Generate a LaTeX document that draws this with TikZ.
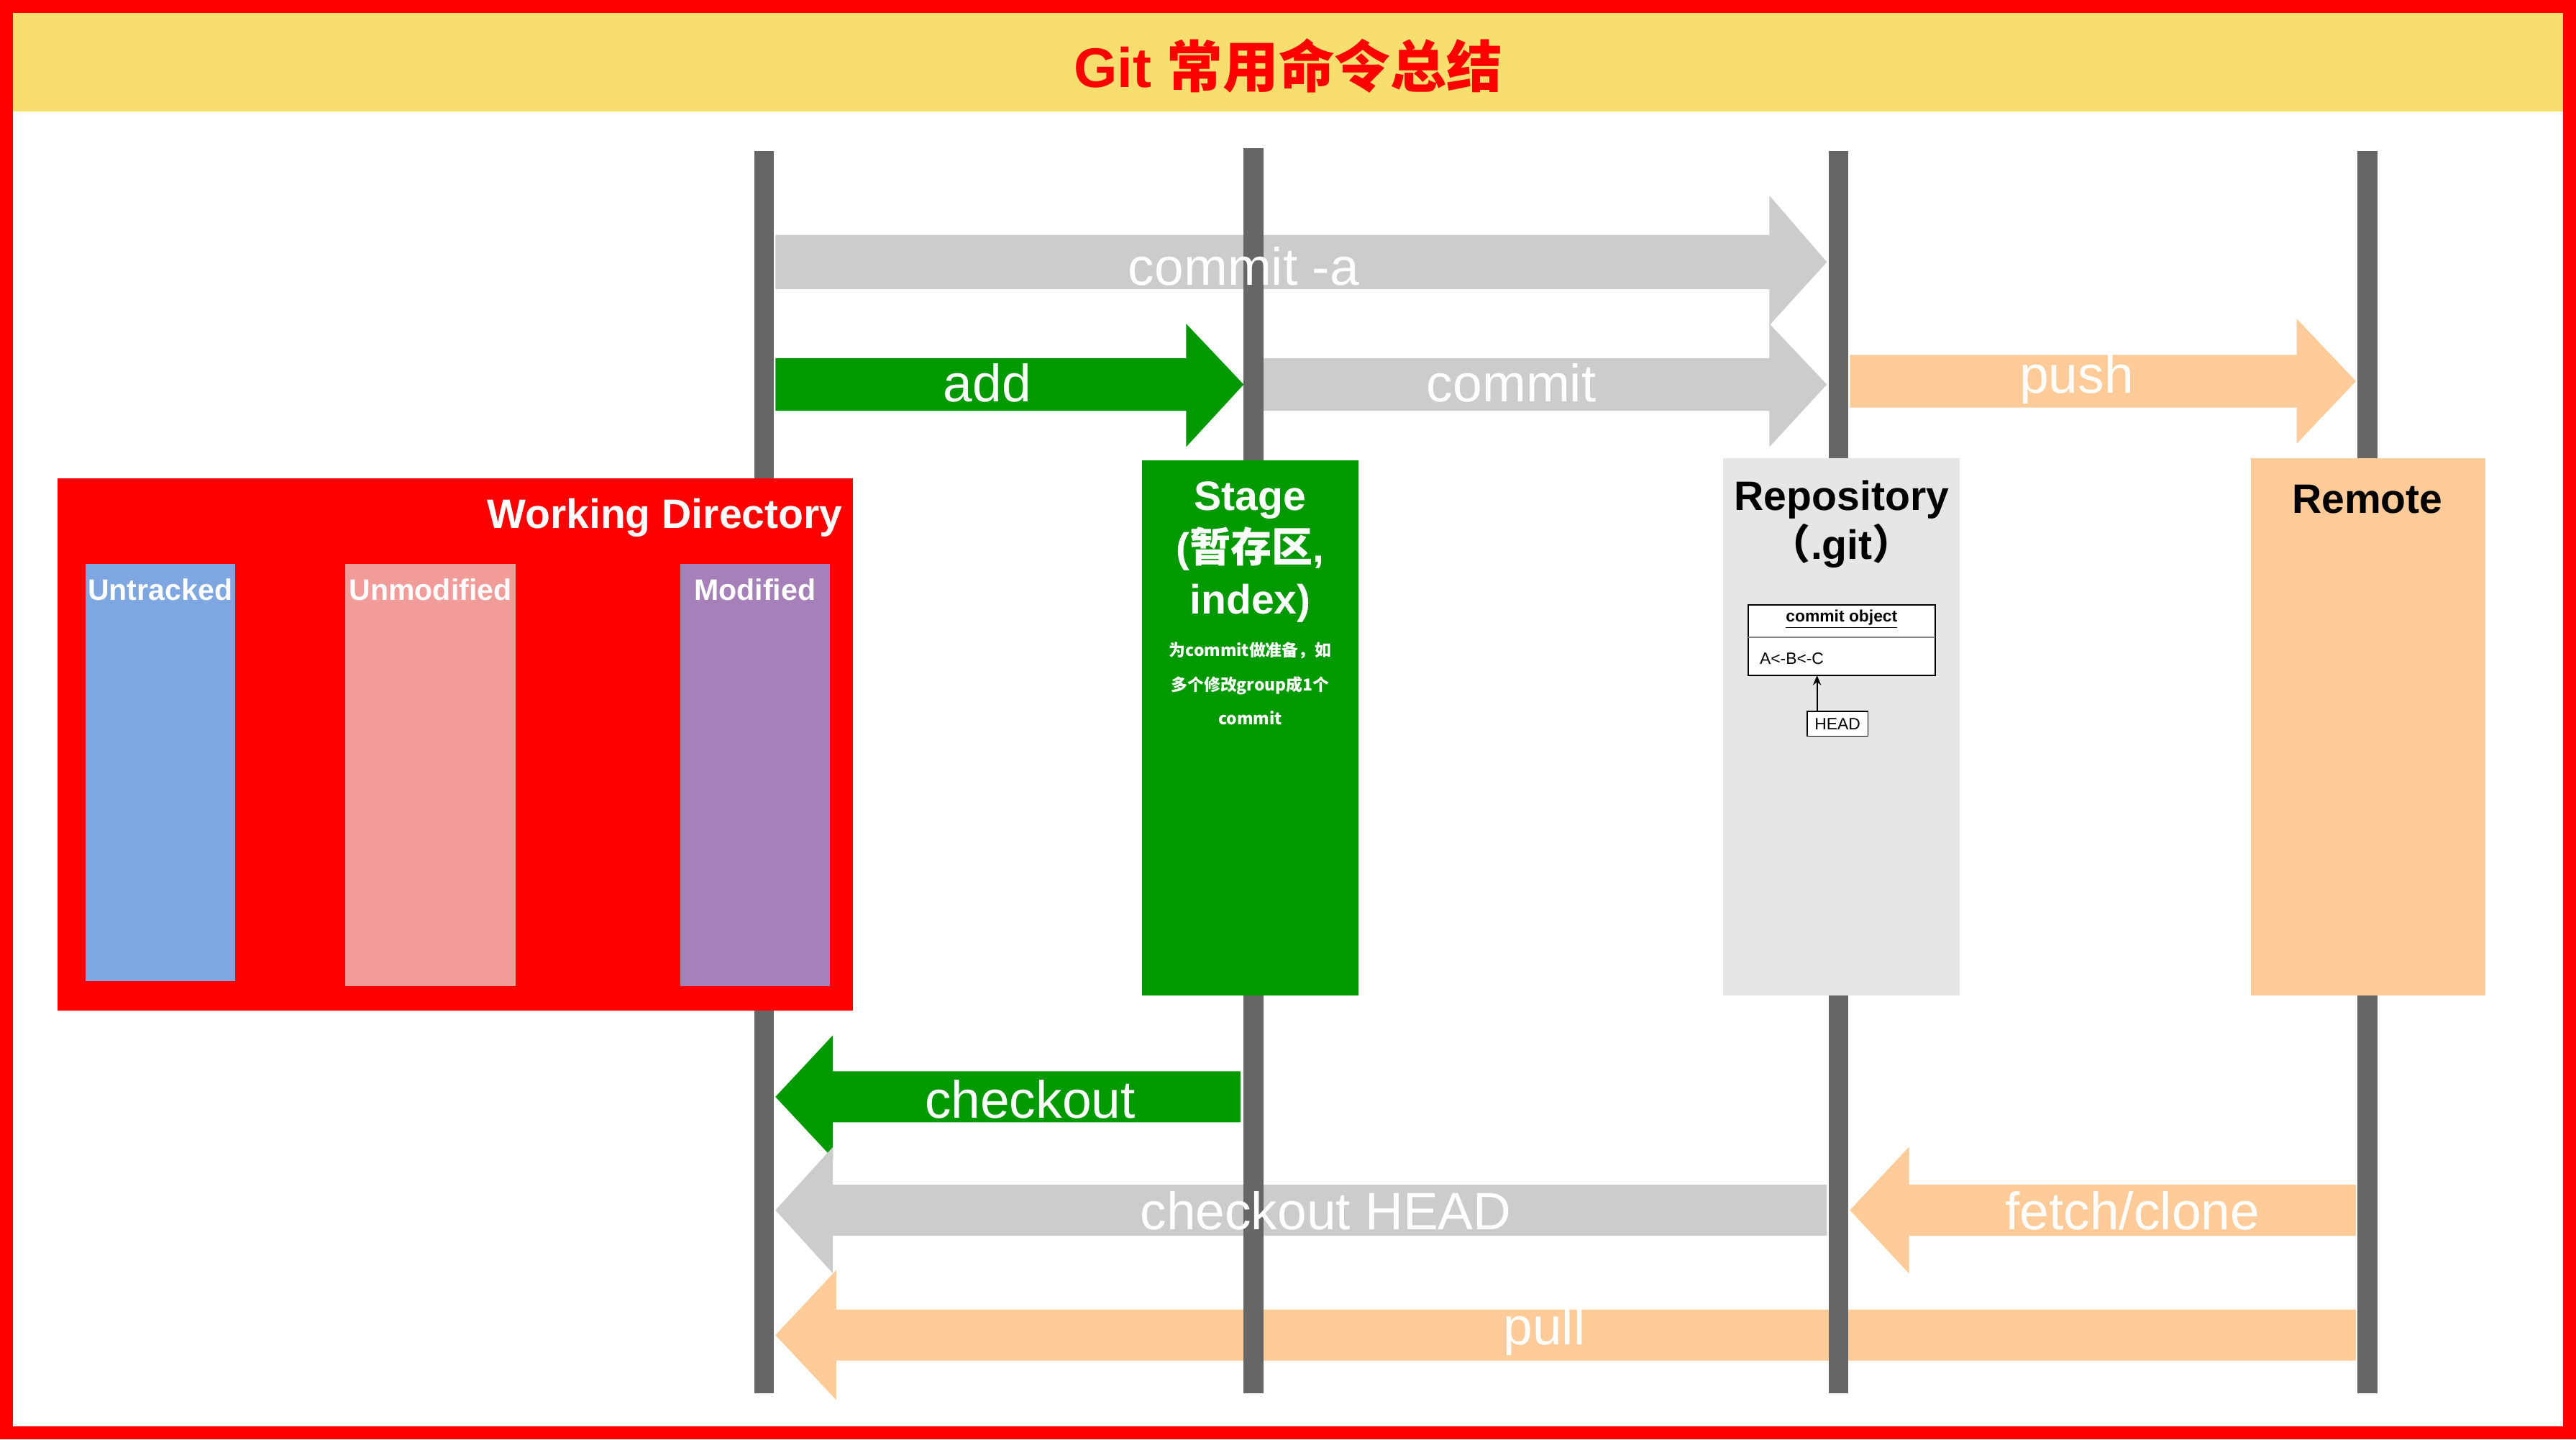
\documentclass[tikz,border=0pt]{standalone}
\usepackage{fontspec}
\setmainfont{Liberation Sans}
\newfontfamily\cjk{Noto Sans CJK SC}
\usetikzlibrary{arrows.meta}
\definecolor{gitgreen}{HTML}{009900}
\definecolor{gitgray}{HTML}{CCCCCC}
\definecolor{peach}{HTML}{FFCC99}
\definecolor{lifeline}{HTML}{666666}
\definecolor{titlebg}{HTML}{F8DE6F}
\definecolor{utblue}{HTML}{7EA6E0}
\definecolor{umpink}{HTML}{F19C99}
\definecolor{mdpurple}{HTML}{A680B8}
\definecolor{repogray}{HTML}{E6E6E6}
% right arrow: x1,x2,headx,bodytop,bodybot,headtop,headbot,color
\newcommand\blockR[8]{\fill[#8] (#1,#4) -- (#3,#4) -- (#3,#6) -- (#2,{(#4+#5)/2}) -- (#3,#7) -- (#3,#5) -- (#1,#5) -- cycle;}
\begin{document}
\begin{tikzpicture}[x=1pt,y=-1pt,
  lbl/.style={text=white,font=\fontsize{32}{34}\selectfont,inner sep=0pt},
  life/.style={lifeline,line width=12pt},
  boxtitle/.style={font=\bfseries\fontsize{25}{30}\selectfont,inner sep=0pt,align=center},
  sub/.style={text=white,font=\bfseries\fontsize{18}{20}\selectfont,anchor=north,inner sep=0pt},
  small/.style={font=\fontsize{10}{12}\selectfont,inner sep=0pt}]
\useasboundingbox (0,0) rectangle (1568,876);
\fill[white] (0,0) rectangle (1568,876);
\fill[titlebg] (8,8) rectangle (1560,68);
\node[text=red,font=\bfseries\fontsize{34}{36}\selectfont] (title) at (784,40) {Git {\cjk 常用命令总结}};
% arrows
\blockR{472}{1112}{1077}{143}{176}{119}{198}{gitgray}
\blockR{472}{757}{722}{218}{250}{197}{272}{gitgreen}
\blockR{769}{1112}{1077}{218}{250}{197}{272}{gitgray}
\blockR{1126}{1434}{1398}{216}{248}{194}{270}{peach}
\blockR{755}{472}{507}{652}{683}{630}{705}{gitgreen}
\blockR{1112}{472}{507}{721}{752}{698}{775}{gitgray}
\blockR{1434}{1126}{1162}{721}{752}{698}{775}{peach}
\blockR{1434}{472}{509}{797}{828}{773}{852}{peach}
% lifelines
\coordinate (w1) at (465,92); \coordinate (w2) at (465,848);
\coordinate (s1) at (763,90); \coordinate (s2) at (763,848);
\coordinate (r1) at (1119,92); \coordinate (r2) at (1119,848);
\coordinate (m1) at (1441,92); \coordinate (m2) at (1441,848);
\draw[life] (w1) -- (w2); \draw[life] (s1) -- (s2);
\draw[life] (r1) -- (r2); \draw[life] (m1) -- (m2);
% labels
\node[lbl] (lca) at (757,162) {commit -a};
\node[lbl] (ladd) at (601,233) {add};
\node[lbl] (lcommit) at (920,233) {commit};
\node[lbl] (lpush) at (1264,231) {push};
\node[lbl] (lco) at (627,669) {checkout};
\node[lbl] (lcoh) at (807,737) {checkout HEAD};
\node[lbl] (lfetch) at (1298,737) {fetch/clone};
\node[lbl] (lpull) at (940,810) {pull};
% working directory
\fill[red] (35,291) rectangle (519,615);
\node[boxtitle,text=white,anchor=east] (wd) at (513,315) {Working Directory};
\fill[utblue] (52,343) rectangle (143,597);
\node[sub] (ut) at (97.5,352) {Untracked};
\fill[umpink] (210,343) rectangle (314,600);
\node[sub] (um) at (262,352) {Unmodified};
\fill[mdpurple] (414,343) rectangle (505,600);
\node[sub] (md) at (459.5,352) {Modified};
% stage
\fill[gitgreen] (695,280) rectangle (827,606);
\node[boxtitle,text=white,font=\bfseries\fontsize{25}{31.5}\selectfont] (stage) at (761,336) {Stage\\({\cjk 暂存区}, \\index)};
\node[small,text=white,align=center,font=\cjk\bfseries\fontsize{10}{21}\selectfont] (stnote) at (761,416) {为commit做准备，如\\多个修改group成1个\\commit};
% repository
\fill[repogray] (1049,279) rectangle (1193,606);
\node[boxtitle] (repo) at (1121,319) {Repository\\{\cjk （}.git{\cjk ）}};
\draw[line width=0.8pt,fill=white] (1064,368) rectangle (1178,411);
\draw[gray,line width=0.8pt] (1064,388) -- (1178,388);
\node[small,font=\bfseries\fontsize{10}{12}\selectfont] (cobj) at (1121,377) {\underline{commit object}};
\node[small,anchor=west] (abc) at (1071,401) {A<-B<-C};
\coordinate (objb) at (1106,411);
\node[small,draw,line width=0.6pt,fill=white,inner sep=1.5pt,minimum width=37pt,minimum height=15pt] (head) at (1118.5,440.5) {HEAD};
\draw[-{Stealth[length=6pt,width=5pt]},line width=0.8pt] (head.north -| objb) -- (objb);
% remote
\fill[peach] (1370,279) rectangle (1513,606);
\node[boxtitle] (remote) at (1441,304) {Remote};
% border
\draw[red,line width=8pt] (4,4) rectangle (1564,872);
\end{tikzpicture}
\end{document}
